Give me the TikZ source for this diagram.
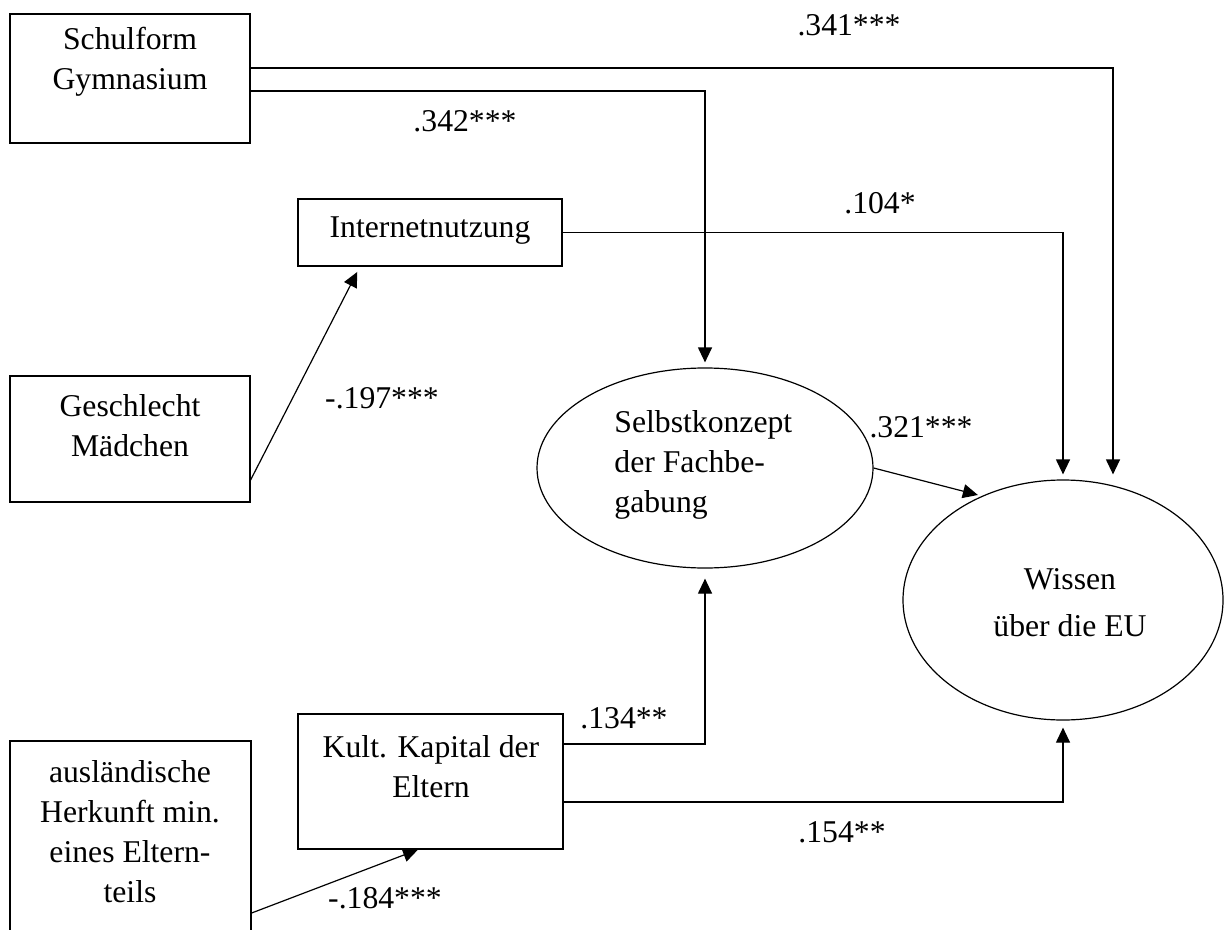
\documentclass[tikz,border=0pt]{standalone}
\usepackage{fontspec}
\setmainfont{Liberation Serif}
\usetikzlibrary{arrows.meta,shapes.geometric,calc}
\begin{document}
\begin{tikzpicture}[x=0.5pt,y=-0.5pt,
  box/.style={draw,line width=0.6pt,rectangle,inner sep=0pt},
  oval/.style={draw,line width=0.6pt,ellipse,inner sep=0pt},
  txt/.style={font=\fontsize{15.85}{20}\selectfont,inner sep=0pt,align=center},
  lbl/.style={font=\fontsize{15.85}{20}\selectfont,inner sep=0pt},
  conn/.style={line width=0.6pt,-{Triangle[length=7.5pt,width=7pt]}}]
\clip (0,0) rectangle (1224,930);
% boxes and ovals
\node[box,minimum width=120pt,minimum height=64.5pt] (sch) at (130,78.5) {};
\node[box,minimum width=132pt,minimum height=33.5pt] (int) at (430,232.5) {};
\node[box,minimum width=120pt,minimum height=63pt] (ges) at (130,439) {};
\node[box,minimum width=120.5pt,minimum height=109.5pt] (aus) at (130.5,850.5) {};
\node[box,minimum width=132.5pt,minimum height=67.5pt] (kul) at (430.5,781.5) {};
\node[oval,minimum width=168pt,minimum height=100pt] (sel) at (705,468) {};
\node[oval,minimum width=160pt,minimum height=120pt] (wis) at (1063,600) {};
% texts
\node[txt] (schT) at (130,62) {Schulform\\Gymnasium};
\node[txt] (intT) at (430,231) {Internetnutzung};
\node[txt] (gesT) at (130,426) {Geschlecht\\Mädchen};
\node[txt] (ausT) at (130,832) {ausländische\\Herkunft min.\\eines Eltern-\\teils};
\node[txt] (kulT) at (431,767) {Kult. Kapital der\\Eltern};
\node[txt,align=left,anchor=west] (selT) at (614,465) {Selbstkonzept\\der Fachbe-\\gabung};
\node[txt,font=\fontsize{15.85}{23.5}\selectfont] (wisT) at (1070,603) {Wissen\\über die EU};
% helper coordinates
\coordinate (ya) at (0,68);
\coordinate (yb) at (0,91);
\coordinate (xa) at (1113,0);
\coordinate (yg) at (0,480);
\coordinate (xg) at (360,0);
\coordinate (yk1) at (0,744);
\coordinate (yk2) at (0,802);
\coordinate (ya2) at (0,913);
\coordinate (xk) at (418,0);
% connectors
\draw[conn,shorten >=2.5pt] (sch.east |- ya) -| (wis.north -| xa);
\draw[conn,shorten >=2.5pt] (sch.east |- yb) -| (sel.north);
\draw[conn,shorten >=2.5pt] (int.east) -| (wis.north);
\draw[conn,shorten >=3pt] (ges.east |- yg) -- (int.south -| xg);
\draw[conn,shorten >=2pt] (sel.east) -- (wis.128);
\draw[conn,shorten >=5pt] (kul.east |- yk1) -| (sel.south);
\draw[conn,shorten >=3.5pt] (kul.east |- yk2) -| (wis.south);
\draw[conn] (aus.east |- ya2) -- (kul.south -| xk);
% labels
\node[lbl] (l341) at (849,25) {.341***};
\node[lbl] (l342) at (465,121) {.342***};
\node[lbl] (l104) at (880,203) {.104*};
\node[lbl] (l197) at (382,398) {-.197***};
\node[lbl] (l321) at (921,427) {.321***};
\node[lbl] (l134) at (624,718) {.134**};
\node[lbl] (l154) at (842,832) {.154**};
\node[lbl] (l184) at (385,898) {-.184***};
\end{tikzpicture}
\end{document}
